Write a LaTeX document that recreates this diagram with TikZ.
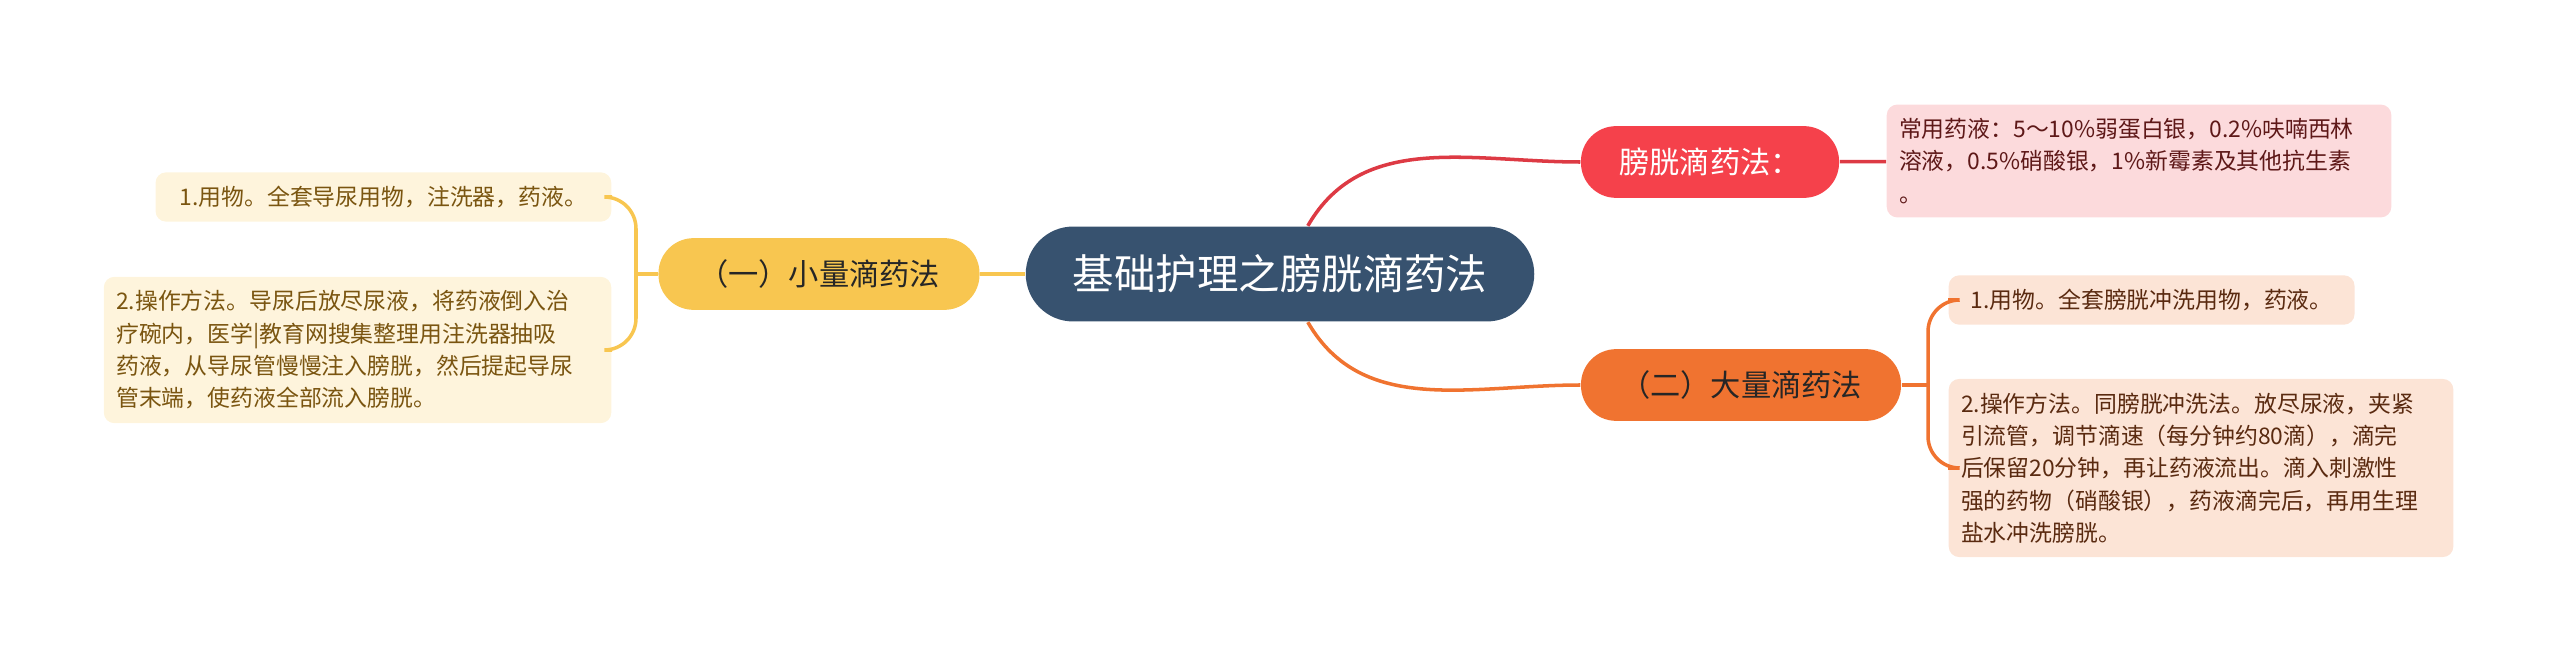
\documentclass[tikz,border=0pt]{standalone}
\usepackage{fontspec}
\setmainfont{Noto Sans CJK SC}
\usepackage{tikz}
\definecolor{rootblue}{HTML}{37526F}
\definecolor{sunyellow}{HTML}{F8C650}
\definecolor{dripred}{HTML}{F5414B}
\definecolor{bigorange}{HTML}{F07330}
\definecolor{creamfill}{HTML}{FEF4DC}
\definecolor{creamtext}{HTML}{7A5510}
\definecolor{pinkfill}{HTML}{FCDADC}
\definecolor{pinktext}{HTML}{5E1818}
\definecolor{peachfill}{HTML}{FCE4D6}
\definecolor{peachtext}{HTML}{5A2A10}
\tikzstyle{root}=[shape=rectangle,rounded corners=13.5pt,fill=rootblue,text=white,minimum width=144.6pt,minimum height=27pt,inner sep=0pt,font=\fontsize{11.8}{14}\selectfont]
\tikzstyle{topic}=[shape=rectangle,rounded corners=10pt,minimum height=20.4pt,inner sep=0pt,font=\fontsize{8.6}{10}\selectfont]
\tikzstyle{leaf}=[shape=rectangle,rounded corners=3pt,inner xsep=3.5pt,inner ysep=3.9pt,font=\fontsize{6.5}{9.2}\selectfont]
\tikzstyle{common}=[line width=1pt]
\tikzstyle{elbow}=[common,rounded corners=9pt,to path={-| (\tikztotarget) \tikztonodes}]

\begin{document}
\begin{tikzpicture}[x=0.01cm,y=-0.01cm]
            \useasboundingbox (0,0) rectangle (2560,664);
            \node[root] (root) at (1280,274) {基础护理之膀胱滴药法}
            ;
            % left branch
            \coordinate (sbr) at (636,274);
            \node[topic,fill=sunyellow,text=black!85,minimum width=91.3pt] (small) at (819,274) {（一）小量滴药法}
                edge[common,sunyellow] (root)
                edge[common,sunyellow] (sbr)
            ;
            \node[leaf,fill=creamfill,text=creamtext,anchor=east,text width=122.6pt,align=center] (sa) at (612,197) {1.用物。全套导尿用物，注洗器，药液。}
                edge[elbow,sunyellow] (sbr)
            ;
            \node[leaf,fill=creamfill,text=creamtext,anchor=east,text width=137.3pt,align=left] (sb) at (612,350) {2.操作方法。导尿后放尽尿液，将药液倒入治\\疗碗内，医学|教育网搜集整理用注洗器抽吸\\药液，从导尿管慢慢注入膀胱，然后提起导尿\\管末端，使药液全部流入膀胱。}
                edge[elbow,sunyellow] (sbr)
            ;
            % right branches
            \node[topic,fill=dripred,text=white,minimum width=73.4pt] (drip) at (1710,162) {膀胱滴药法：}
                edge[common,dripred!90!black,out=180,in=60] (root)
            ;
            \node[leaf,fill=pinkfill,text=pinktext,anchor=west,text width=136.5pt,align=left] (da) at (1886,161) {常用药液：5～10\%弱蛋白银，0.2\%呋喃西林\\溶液，0.5\%硝酸银，1\%新霉素及其他抗生素\\。}
                edge[common,dripred!90!black] (drip)
            ;
            \coordinate (bbr) at (1928,385);
            \node[topic,fill=bigorange,text=black!85,minimum width=91pt] (big) at (1741,385) {（二）大量滴药法}
                edge[common,bigorange,out=180,in=-60] (root)
                edge[common,bigorange] (bbr)
            ;
            \node[leaf,fill=peachfill,text=peachtext,anchor=west,text width=108.4pt,align=center] (ba) at (1948,300) {1.用物。全套膀胱冲洗用物，药液。}
                edge[elbow,bigorange] (bbr)
            ;
            \node[leaf,fill=peachfill,text=peachtext,anchor=west,text width=136.5pt,align=left] (bb) at (1948,468) {2.操作方法。同膀胱冲洗法。放尽尿液，夹紧\\引流管，调节滴速（每分钟约80滴），滴完\\后保留20分钟，再让药液流出。滴入刺激性\\强的药物（硝酸银），药液滴完后，再用生理\\盐水冲洗膀胱。}
                edge[elbow,bigorange] (bbr)
            ;
        \end{tikzpicture}
\end{document}
